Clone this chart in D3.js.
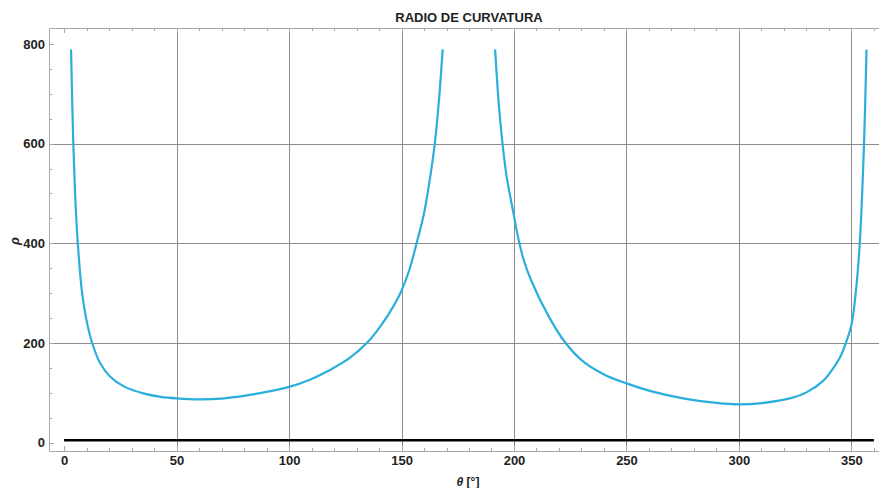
<!DOCTYPE html>
<html>
<head>
<meta charset="utf-8">
<script src="https://cdn.jsdelivr.net/npm/d3@7"></script>
<style>
  body { margin: 0; background: #fff; }
  svg { display: block; font-family: "Liberation Sans", Arial, sans-serif; }
</style>
</head>
<body>
<svg id="chart" width="879" height="488"></svg>
<script>
// branch 1 (0 < theta < 180)
const thetaA = [3.1, 4.1, 5.0, 6.1, 7.9, 10, 12.7, 16, 20.4, 27, 35.2, 43, 50, 60.4, 70, 81.2, 90, 100, 109, 118.2, 127, 135.2, 141, 146.3, 150, 153.5, 156.7, 160, 162.5, 164.8, 166.7, 168.3];
const rhoA   = [789, 600, 490, 400, 305, 245, 197, 160, 133, 112, 99, 92, 89, 87, 88.5, 95, 102, 112, 126, 146, 170, 203, 236, 273, 305, 347, 400, 460, 526, 600, 690, 789];
// branch 2 (180 < theta < 360)
const thetaB = [191.6, 193.2, 194.9, 196.7, 200, 201.9, 204.5, 207.8, 215, 222.6, 230.7, 240, 250, 260.4, 275.2, 290, 300, 309, 322.6, 330, 337.4, 342, 345, 347.5, 350, 352, 353.7, 355.6, 356.7];
const rhoB   = [789, 682, 600, 535, 455, 410, 364, 324, 257, 202, 163, 137, 119, 104, 89, 80, 77, 79, 89, 101, 124, 150, 172, 200, 236, 305, 400, 600, 789];
// black reference line
const baseTheta = [0, 360];
const baseRho = [5, 5];

const xTicks = [0, 50, 100, 150, 200, 250, 300, 350];
const yTicks = [0, 200, 400, 600, 800];
const xGrid = [50, 100, 150, 200, 250, 300, 350];
const yGrid = [200, 400, 600];

const svg = d3.select("#chart");

const pLeft = 49, pRight = 889, pTop = 28, pBottom = 451;
const x = d3.scaleLinear().domain([-6.7, 366.7]).range([pLeft, pRight]);
const y = d3.scaleLinear().domain([-16.6, 832]).range([pBottom, pTop]);

// title
svg.append("text")
    .attr("x", (pLeft + pRight) / 2)
    .attr("y", 22)
    .attr("text-anchor", "middle")
    .attr("font-size", 13)
    .attr("font-weight", "bold")
    .attr("fill", "#222")
    .text("RADIO DE CURVATURA");

// grid
const grid = svg.append("g").attr("stroke", "#8c8c8c").attr("stroke-width", 1);
grid.selectAll("line.vx")
    .data(xGrid)
    .join("line")
    .attr("class", "vx")
    .attr("x1", d => Math.round(x(d)) + 0.5)
    .attr("x2", d => Math.round(x(d)) + 0.5)
    .attr("y1", pTop)
    .attr("y2", pBottom);
grid.selectAll("line.hy")
    .data(yGrid)
    .join("line")
    .attr("class", "hy")
    .attr("x1", pLeft)
    .attr("x2", pRight)
    .attr("y1", d => Math.round(y(d)) + 0.5)
    .attr("y2", d => Math.round(y(d)) + 0.5);

// frame
svg.append("path")
    .attr("fill", "none")
    .attr("stroke", "#a8a8a8")
    .attr("stroke-width", 1)
    .attr("d", `M${pRight},${pTop + 0.5}H${pLeft + 0.5}V${pBottom + 0.5}H${pRight}`);

// ticks (inward)
const ticks = svg.append("g").attr("stroke", "#a8a8a8").attr("stroke-width", 1);
const xMinor = d3.range(0, 361, 10);
const yMinor = d3.range(0, 801, 50);
xMinor.forEach(t => {
    const len = t % 50 === 0 ? 5 : 3;
    const px = Math.round(x(t)) + 0.5;
    ticks.append("line").attr("x1", px).attr("x2", px).attr("y1", pBottom).attr("y2", pBottom - len);
    ticks.append("line").attr("x1", px).attr("x2", px).attr("y1", pTop).attr("y2", pTop + len);
});
yMinor.forEach(t => {
    const len = t % 200 === 0 ? 5 : 3;
    const py = Math.round(y(t)) + 0.5;
    ticks.append("line").attr("x1", pLeft).attr("x2", pLeft + len).attr("y1", py).attr("y2", py);
});

// axis labels via d3 axes
const xAxis = svg.append("g")
    .attr("transform", `translate(0,${pBottom})`)
    .call(d3.axisBottom(x).tickValues(xTicks).tickSize(0).tickPadding(5));
const yAxis = svg.append("g")
    .attr("transform", `translate(${pLeft},0)`)
    .call(d3.axisLeft(y).tickValues(yTicks).tickSize(0).tickPadding(4));
[xAxis, yAxis].forEach(a => {
    a.select(".domain").remove();
    a.selectAll("text")
        .attr("font-family", "'Liberation Sans', Arial, sans-serif")
        .attr("font-size", 13)
        .attr("font-weight", "bold")
        .attr("fill", "#222");
});

// axis titles
const xt = svg.append("text")
    .attr("x", 468)
    .attr("y", 486)
    .attr("text-anchor", "middle")
    .attr("font-size", 12)
    .attr("font-weight", "bold")
    .attr("fill", "#222");
xt.append("tspan").attr("font-style", "italic").text("θ");
xt.append("tspan").text(" [°]");

svg.append("text")
    .attr("transform", "translate(19,241) rotate(-90)")
    .attr("text-anchor", "middle")
    .attr("font-size", 13)
    .attr("font-weight", "bold")
    .attr("font-style", "italic")
    .attr("fill", "#222")
    .text("ρ");

// curves
const line = d3.line()
    .x(d => x(d[0]))
    .y(d => y(d[1]))
    .curve(d3.curveCatmullRom.alpha(0.5));

svg.append("path")
    .datum(d3.zip(baseTheta, baseRho))
    .attr("fill", "none")
    .attr("stroke", "#000")
    .attr("stroke-width", 2.5)
    .attr("d", line);

[[thetaA, rhoA], [thetaB, rhoB]].forEach(([t, r]) => {
    svg.append("path")
        .datum(d3.zip(t, r))
        .attr("fill", "none")
        .attr("stroke", "#2aafdc")
        .attr("stroke-width", 2.2)
        .attr("d", line);
});
</script>
</body>
</html>
